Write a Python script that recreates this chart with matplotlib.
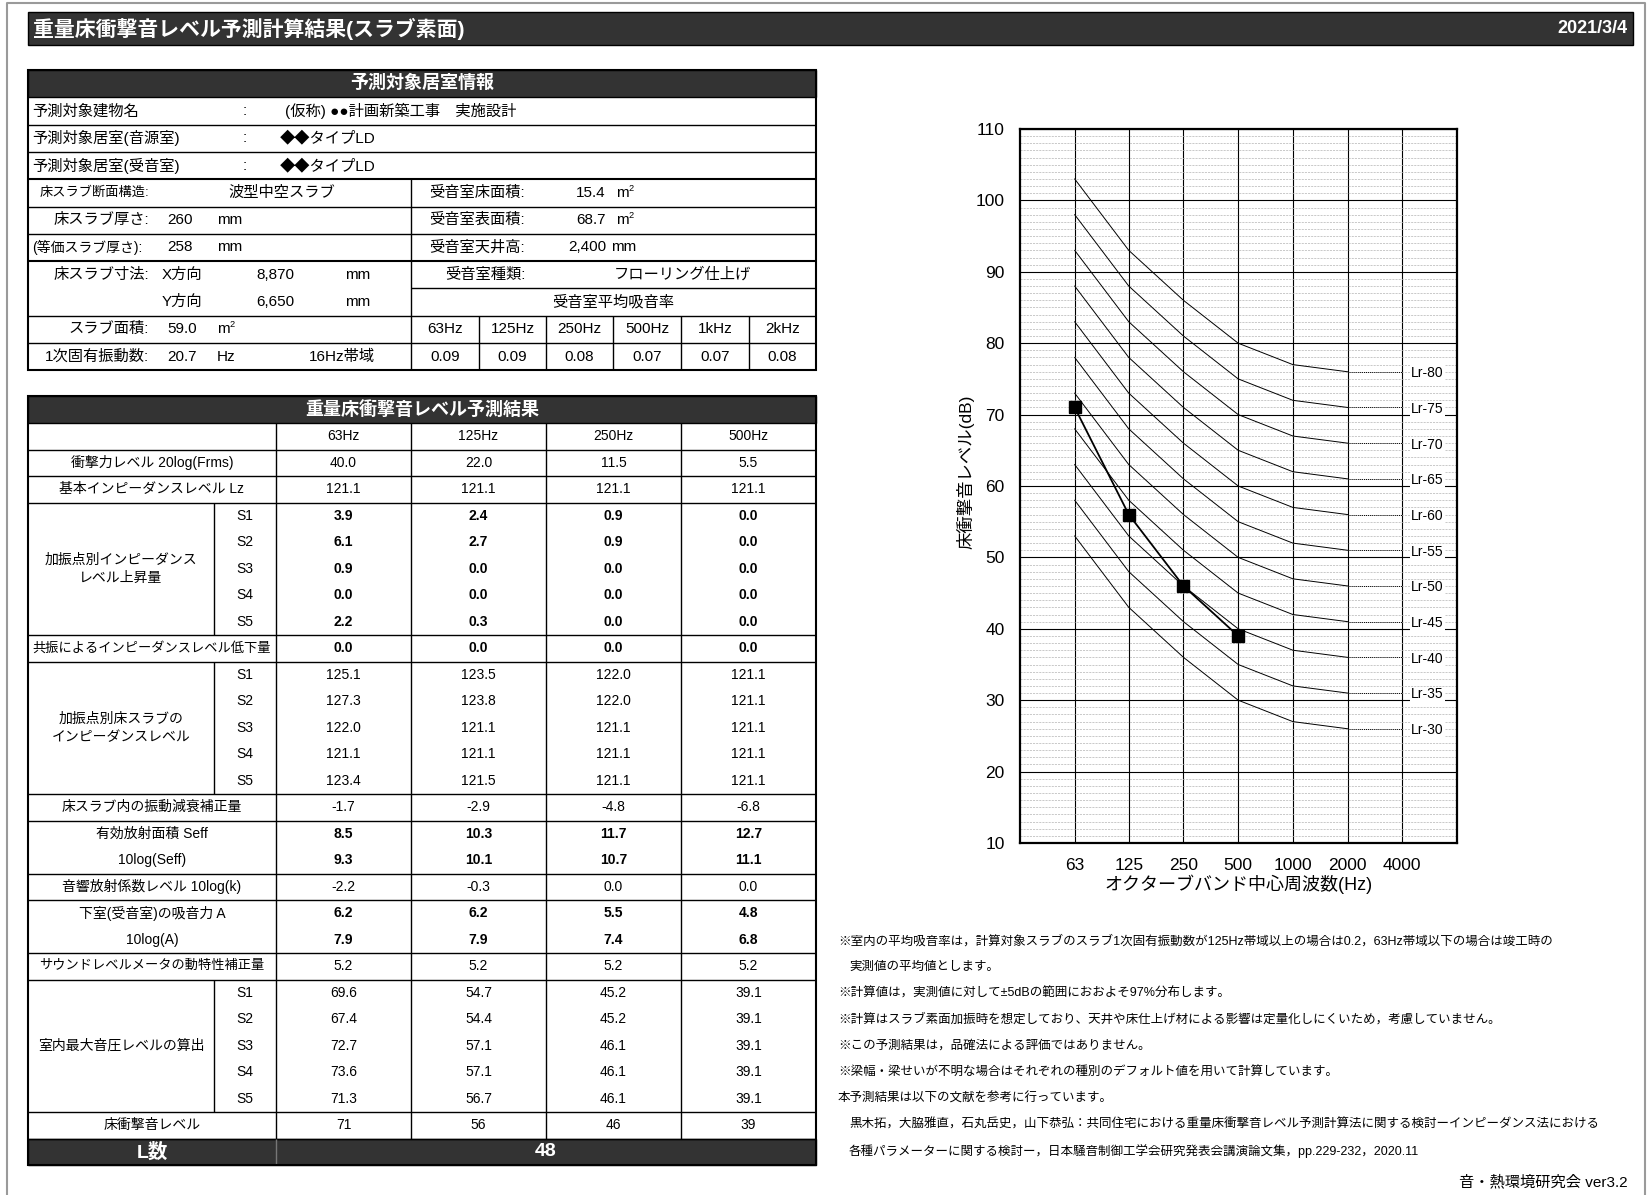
import matplotlib
matplotlib.use("Agg")
import matplotlib.pyplot as plt
from matplotlib.patches import Rectangle
from matplotlib.ticker import MultipleLocator, NullLocator

plt.rcParams["font.family"] = ["Liberation Sans", "Noto Sans CJK JP"]

PAGE_W, PAGE_H = 1648, 1195
DARK = "#333333"

REPORT_TITLE = "重量床衝撃音レベル予測計算結果(スラブ素面)"
REPORT_DATE = "2021/3/4"

# room information
BUILDING_NAME = "(仮称) ●●計画新築工事　実施設計"
SOURCE_ROOM = "◆◆タイプLD"
RECEIVING_ROOM = "◆◆タイプLD"
SLAB_STRUCTURE = "波型中空スラブ"
SLAB_THICKNESS = 260
EQUIV_THICKNESS = 258
SLAB_SIZE_X = 8870
SLAB_SIZE_Y = 6650
SLAB_AREA = 59.0
NATURAL_FREQ = 20.7
NATURAL_FREQ_BAND = "16Hz帯域"
ROOM_FLOOR_AREA = 15.4
ROOM_SURFACE_AREA = 68.7
ROOM_CEILING_HEIGHT = 2400
ROOM_FINISH = "フローリング仕上げ"
ABSORPTION_BANDS = ["63Hz", "125Hz", "250Hz", "500Hz", "1kHz", "2kHz"]
ABSORPTION_COEF = [0.09, 0.09, 0.08, 0.07, 0.07, 0.08]

# prediction results per band
RESULT_BANDS = ["63Hz", "125Hz", "250Hz", "500Hz"]
POINTS = ["S1", "S2", "S3", "S4", "S5"]
FORCE_LEVEL = [40.0, 22.0, 11.5, 5.5]
BASE_IMPEDANCE = [121.1, 121.1, 121.1, 121.1]
IMPEDANCE_RISE = [
    [3.9, 2.4, 0.9, 0.0],
    [6.1, 2.7, 0.9, 0.0],
    [0.9, 0.0, 0.0, 0.0],
    [0.0, 0.0, 0.0, 0.0],
    [2.2, 0.3, 0.0, 0.0],
]
RESONANCE_DROP = [0.0, 0.0, 0.0, 0.0]
SLAB_IMPEDANCE = [
    [125.1, 123.5, 122.0, 121.1],
    [127.3, 123.8, 122.0, 121.1],
    [122.0, 121.1, 121.1, 121.1],
    [121.1, 121.1, 121.1, 121.1],
    [123.4, 121.5, 121.1, 121.1],
]
ATTENUATION = [-1.7, -2.9, -4.8, -6.8]
SEFF = [8.5, 10.3, 11.7, 12.7]
SEFF_LOG = [9.3, 10.1, 10.7, 11.1]
RADIATION_LEVEL = [-2.2, -0.3, 0.0, 0.0]
ABSORPTION_A = [6.2, 6.2, 5.5, 4.8]
ABSORPTION_A_LOG = [7.9, 7.9, 7.4, 6.8]
METER_CORRECTION = [5.2, 5.2, 5.2, 5.2]
MAX_SPL = [
    [69.6, 54.7, 45.2, 39.1],
    [67.4, 54.4, 45.2, 39.1],
    [72.7, 57.1, 46.1, 39.1],
    [73.6, 57.1, 46.1, 39.1],
    [71.3, 56.7, 46.1, 39.1],
]
FLOOR_IMPACT_LEVEL = [71, 56, 46, 39]
L_NUMBER = 48

# rating curves (Lr) per octave band 63 .. 2000 Hz
OCTAVE_BANDS = [63, 125, 250, 500, 1000, 2000, 4000]
LR_LABELS = ["Lr-80", "Lr-75", "Lr-70", "Lr-65", "Lr-60", "Lr-55",
             "Lr-50", "Lr-45", "Lr-40", "Lr-35", "Lr-30"]
LR_LEVELS = [
    [103, 93, 86, 80, 77, 76],
    [98, 88, 81, 75, 72, 71],
    [93, 83, 76, 70, 67, 66],
    [88, 78, 71, 65, 62, 61],
    [83, 73, 66, 60, 57, 56],
    [78, 68, 61, 55, 52, 51],
    [73, 63, 56, 50, 47, 46],
    [68, 58, 51, 45, 42, 41],
    [63, 53, 46, 40, 37, 36],
    [58, 48, 41, 35, 32, 31],
    [53, 43, 36, 30, 27, 26],
]

NOTES = [
    (838, "※室内の平均吸音率は，計算対象スラブのスラブ1次固有振動数が125Hz帯域以上の場合は0.2，63Hz帯域以下の場合は竣工時の"),
    (849, "実測値の平均値とします。"),
    (838, "※計算値は，実測値に対して±5dBの範囲におおよそ97%分布します。"),
    (838, "※計算はスラブ素面加振時を想定しており、天井や床仕上げ材による影響は定量化しにくいため，考慮していません。"),
    (838, "※この予測結果は，品確法による評価ではありません。"),
    (838, "※梁幅・梁せいが不明な場合はそれぞれの種別のデフォルト値を用いて計算しています。"),
    (838, "本予測結果は以下の文献を参考に行っています。"),
    (849, "黒木拓，大脇雅直，石丸岳史，山下恭弘：共同住宅における重量床衝撃音レベル予測計算法に関する検討ーインピーダンス法における"),
    (849, "各種パラメーターに関する検討ー，日本騒音制御工学会研究発表会講演論文集，pp.229-232，2020.11"),
]
FOOTER = "音・熱環境研究会 ver3.2"

LW = 1.0
LW_OUTER = 1.5


def put(ax, x, y, s, size=11, ha="left", bold=False, color="black"):
    ax.text(x, y, s, fontsize=size, ha=ha, va="center",
            fontweight="bold" if bold else "normal", color=color, zorder=4)


def put_m2(ax, x, y, size=11):
    put(ax, x, y, "m", size)
    ax.text(x + 0.84 * size * 100 / 72, y - 0.42 * size, "2",
            fontsize=size * 0.6, va="center", zorder=4)


def hline(ax, y, x0, x1, lw=LW, color="black"):
    ax.plot([x0, x1], [y, y], color=color, lw=lw, solid_capstyle="butt", zorder=3)


def vline(ax, x, y0, y1, lw=LW, color="black"):
    ax.plot([x, x], [y0, y1], color=color, lw=lw, solid_capstyle="butt", zorder=3)


def dark_bar(ax, x, y, w, h, text, size=13, ha="center", tx=None):
    ax.add_patch(Rectangle((x, y), w, h, fc=DARK, ec="black", lw=LW, zorder=2))
    put(ax, x + w / 2 if tx is None else tx, y + h / 2, text, size, ha=ha,
        bold=True, color="white")


def draw_room_table(ax):
    x0, xm, x1 = 28, 411, 816
    sub = [411, 479, 546, 613, 681, 749, 816]
    top, rh = 70, 27.3
    ys = [top + rh * i for i in range(12)]

    def cy(i):
        return (ys[i] + ys[i + 1]) / 2

    dark_bar(ax, x0, ys[0], x1 - x0, rh, "予測対象居室情報")

    for i, (label, value) in enumerate([("予測対象建物名", BUILDING_NAME),
                                        ("予測対象居室(音源室)", SOURCE_ROOM),
                                        ("予測対象居室(受音室)", RECEIVING_ROOM)], start=1):
        put(ax, 32, cy(i), label)
        put(ax, 243, cy(i), ":")
        put(ax, 285 if i == 1 else 280, cy(i), value)

    put(ax, 149, cy(4), "床スラブ断面構造:", 9.5, ha="right")
    put(ax, 228, cy(4), SLAB_STRUCTURE)
    put(ax, 149, cy(5), "床スラブ厚さ:", ha="right")
    put(ax, 167, cy(5), f"{SLAB_THICKNESS}")
    put(ax, 217, cy(5), "mm")
    put(ax, 32, cy(6), "(等価スラブ厚さ):", 10)
    put(ax, 167, cy(6), f"{EQUIV_THICKNESS}")
    put(ax, 217, cy(6), "mm")
    put(ax, 149, cy(7), "床スラブ寸法:", ha="right")
    put(ax, 162, cy(7), "X方向")
    put(ax, 256, cy(7), f"{SLAB_SIZE_X:,}")
    put(ax, 345, cy(7), "mm")
    put(ax, 162, cy(8), "Y方向")
    put(ax, 256, cy(8), f"{SLAB_SIZE_Y:,}")
    put(ax, 345, cy(8), "mm")
    put(ax, 149, cy(9), "スラブ面積:", ha="right")
    put(ax, 167, cy(9), f"{SLAB_AREA:.1f}")
    put_m2(ax, 217, cy(9))
    put(ax, 149, cy(10), "1次固有振動数:", ha="right")
    put(ax, 167, cy(10), f"{NATURAL_FREQ:.1f}")
    put(ax, 217, cy(10), "Hz")
    put(ax, 309, cy(10), NATURAL_FREQ_BAND)

    put(ax, 429, cy(4), "受音室床面積:")
    put(ax, 606, cy(4), f"{ROOM_FLOOR_AREA:.1f}", ha="right")
    put_m2(ax, 616, cy(4))
    put(ax, 429, cy(5), "受音室表面積:")
    put(ax, 606, cy(5), f"{ROOM_SURFACE_AREA:.1f}", ha="right")
    put_m2(ax, 616, cy(5))
    put(ax, 429, cy(6), "受音室天井高:")
    put(ax, 606, cy(6), f"{ROOM_CEILING_HEIGHT:,}", ha="right")
    put(ax, 611, cy(6), "mm")
    put(ax, 445, cy(7), "受音室種類:")
    put(ax, 682, cy(7), ROOM_FINISH, ha="center")
    put(ax, (xm + x1) / 2, cy(8), "受音室平均吸音率", ha="center")
    for k, (band, coef) in enumerate(zip(ABSORPTION_BANDS, ABSORPTION_COEF)):
        xc = (sub[k] + sub[k + 1]) / 2
        put(ax, xc, cy(9), band, ha="center")
        put(ax, xc, cy(10), f"{coef:.2f}", ha="center")

    for i in [2, 3, 5, 6, 9, 10]:
        hline(ax, ys[i], x0, x1)
    for i in [4, 7]:
        hline(ax, ys[i], x0, x1, lw=LW_OUTER)
    hline(ax, ys[8], xm, x1)
    vline(ax, xm, ys[4], ys[11])
    for x in sub[1:-1]:
        vline(ax, x, ys[9], ys[11])
    ax.add_patch(Rectangle((x0, ys[0]), x1 - x0, ys[11] - ys[0], fc="none",
                           ec="black", lw=LW_OUTER, zorder=3))


def draw_result_table(ax):
    x0, xs, xv, x1 = 28, 214, 276, 816
    cols = [276, 411, 546, 681, 816]
    centers = [(cols[k] + cols[k + 1]) / 2 for k in range(4)]
    top, head_h, rh = 396, 27, 26.5

    dark_bar(ax, x0, top, x1 - x0, head_h, "重量床衝撃音レベル予測結果")
    y = top + head_h

    def values(yc, row, bold=False, fmt="{:.1f}"):
        for xc, v in zip(centers, row):
            put(ax, xc, yc, fmt.format(v), 10, ha="center", bold=bold)

    # band header row
    for xc, band in zip(centers, RESULT_BANDS):
        put(ax, xc, y + rh / 2, band, 10, ha="center")
    y += rh
    hline(ax, y, x0, x1)

    def single(y, label, row, bold=False, size=10, fmt="{:.1f}"):
        put(ax, (x0 + xv) / 2, y + rh / 2, label, size, ha="center")
        values(y + rh / 2, row, bold, fmt)
        hline(ax, y + rh, x0, x1)
        return y + rh

    def paired(y, labels, rows, bold=False):
        for j, (label, row) in enumerate(zip(labels, rows)):
            put(ax, (x0 + xv) / 2, y + rh * (j + 0.5), label, 10, ha="center")
            values(y + rh * (j + 0.5), row, bold)
        hline(ax, y + rh * len(rows), x0, x1)
        return y + rh * len(rows)

    def by_point(y, label, rows, bold=False):
        n = len(rows)
        ax.text((x0 + xs) / 2, y + rh * n / 2, label, fontsize=10, ha="center",
                va="center", linespacing=1.35, zorder=4)
        for j, (pt, row) in enumerate(zip(POINTS, rows)):
            put(ax, (xs + xv) / 2, y + rh * (j + 0.5), pt, 10, ha="center")
            values(y + rh * (j + 0.5), row, bold)
        vline(ax, xs, y, y + rh * n)
        hline(ax, y + rh * n, x0, x1)
        return y + rh * n

    y = single(y, "衝撃力レベル 20log(Frms)", FORCE_LEVEL)
    y = single(y, "基本インピーダンスレベル Lz", BASE_IMPEDANCE)
    y = by_point(y, "加振点別インピーダンス\nレベル上昇量", IMPEDANCE_RISE, bold=True)
    y = single(y, "共振によるインピーダンスレベル低下量", RESONANCE_DROP, bold=True, size=9.5)
    y = by_point(y, "加振点別床スラブの\nインピーダンスレベル", SLAB_IMPEDANCE)
    y = single(y, "床スラブ内の振動減衰補正量", ATTENUATION)
    y = paired(y, ["有効放射面積 Seff", "10log(Seff)"], [SEFF, SEFF_LOG], bold=True)
    y = single(y, "音響放射係数レベル 10log(k)", RADIATION_LEVEL)
    y = paired(y, ["下室(受音室)の吸音力 A", "10log(A)"],
               [ABSORPTION_A, ABSORPTION_A_LOG], bold=True)
    y = single(y, "サウンドレベルメータの動特性補正量", METER_CORRECTION, size=9.5)
    y = by_point(y, "室内最大音圧レベルの算出", MAX_SPL)
    y = single(y, "床衝撃音レベル", FLOOR_IMPACT_LEVEL, fmt="{:d}")
    row_end = y

    # L-number row
    ax.add_patch(Rectangle((x0, y), x1 - x0, rh, fc=DARK, ec="black", lw=LW, zorder=2))
    put(ax, (x0 + xv) / 2, y + rh / 2, "L数", 14, ha="center", bold=True, color="white")
    put(ax, (xv + x1) / 2, y + rh / 2, f"{L_NUMBER}", 14, ha="center", bold=True,
        color="white")
    bottom = y + rh

    vline(ax, xv, top + head_h, row_end)
    vline(ax, xv, row_end, bottom, color="#777777")
    for x in cols[1:-1]:
        vline(ax, x, top + head_h, row_end)
    ax.add_patch(Rectangle((x0, top), x1 - x0, bottom - top, fc="none",
                           ec="black", lw=LW_OUTER, zorder=3))


def draw_rating_chart(fig):
    ax = fig.add_axes([1020 / PAGE_W, 1 - 843 / PAGE_H, 437 / PAGE_W, 714 / PAGE_H])
    ax.set_xscale("log", base=2)
    ax.set_xlim(31.5, 8000)
    ax.set_ylim(10, 110)
    ax.yaxis.set_major_locator(MultipleLocator(10))
    ax.yaxis.set_minor_locator(MultipleLocator(1))
    ax.set_xticks(OCTAVE_BANDS)
    ax.set_xticklabels([str(f) for f in OCTAVE_BANDS])
    ax.xaxis.set_minor_locator(NullLocator())
    ax.grid(axis="y", which="minor", color="#b4b4b4", lw=0.5, ls=(0, (3, 1.5)))
    ax.grid(axis="y", which="major", color="black", lw=0.8)
    ax.grid(axis="x", which="major", color="black", lw=0.8)
    ax.set_axisbelow(True)
    ax.tick_params(which="both", length=0, labelsize=12.5, pad=11)
    for sp in ax.spines.values():
        sp.set_linewidth(1.6)

    for label, levels in zip(LR_LABELS, LR_LEVELS):
        ax.plot(OCTAVE_BANDS[:6], levels, color="black", lw=0.7, zorder=3)
        ax.plot(OCTAVE_BANDS[5:7], [levels[-1], levels[-1]], color="black", lw=0.7,
                ls=(0, (1, 1)), zorder=3)
        ax.annotate(label, (OCTAVE_BANDS[6], levels[-1]), xytext=(6.5, -1),
                    textcoords="offset points", fontsize=10, va="center", zorder=4,
                    bbox=dict(fc="white", ec="none", pad=0.6))

    ax.plot(OCTAVE_BANDS[:4], FLOOR_IMPACT_LEVEL, color="black", lw=1.3, marker="s",
            ms=8, mfc="black", mec="black", zorder=5, clip_on=False)

    ax.set_ylabel("床衝撃音レベル(dB)", fontsize=12.5)
    ax.yaxis.label.set_va("center")
    ax.yaxis.set_label_coords(-0.124, 0.52)
    ax.set_xlabel("オクターブバンド中心周波数(Hz)", fontsize=13)
    ax.xaxis.label.set_va("center")
    ax.xaxis.set_label_coords(0.5, -0.058)


def main():
    fig = plt.figure(figsize=(PAGE_W / 100, PAGE_H / 100), dpi=100)
    page = fig.add_axes([0, 0, 1, 1])
    page.set_xlim(0, PAGE_W)
    page.set_ylim(PAGE_H, 0)
    page.axis("off")

    # page frame (open at the bottom)
    page.plot([7, 7, 1645, 1645], [PAGE_H + 5, 3, 3, PAGE_H + 5], color="#9a9a9a",
              lw=1.5, zorder=1)

    dark_bar(page, 28, 12, 1605, 33, REPORT_TITLE, 15, ha="left", tx=33)
    put(page, 1628, 28.5, REPORT_DATE, 13, ha="right", bold=True, color="white")

    draw_room_table(page)
    draw_result_table(page)
    draw_rating_chart(fig)

    for k, (x, line) in enumerate(NOTES):
        put(page, x, 941 + 26.2 * k, line, 9)
    put(page, 1628, 1182, FOOTER, 11, ha="right")

    fig.savefig("out.png", dpi=100)
    plt.close(fig)


if __name__ == "__main__":
    main()
